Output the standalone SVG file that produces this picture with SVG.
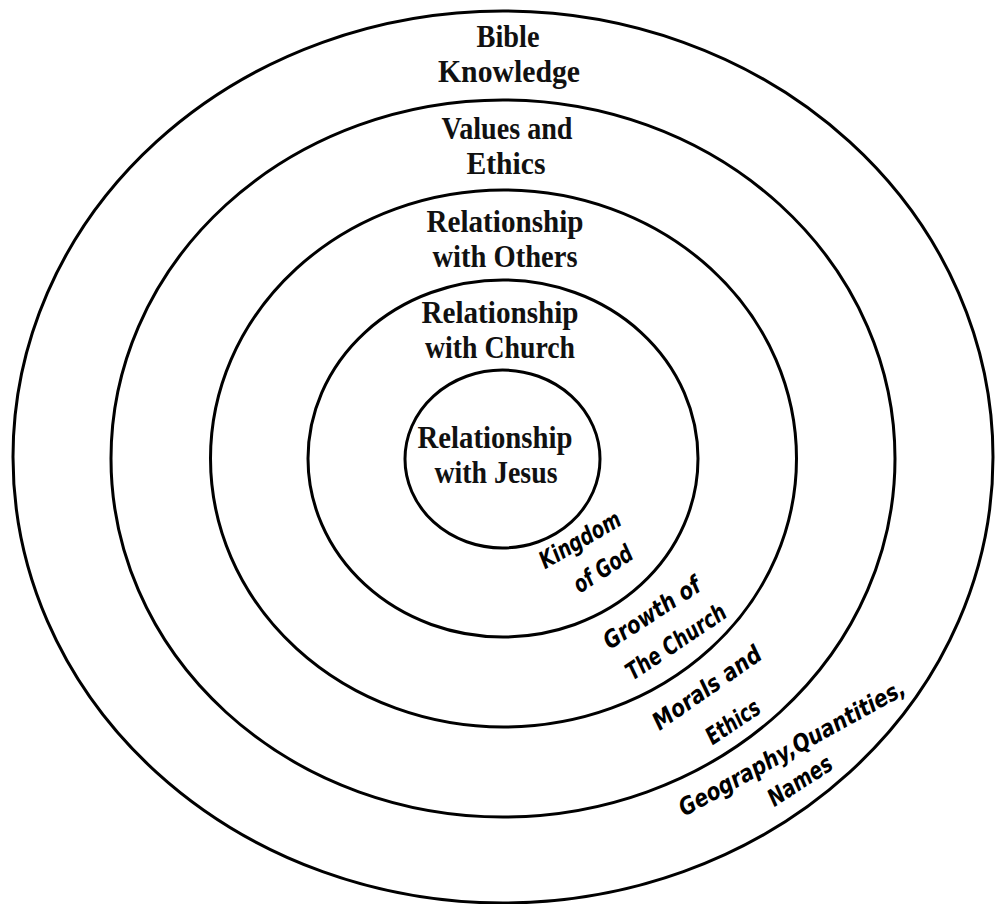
<svg xmlns="http://www.w3.org/2000/svg" width="1002" height="904" viewBox="0 0 1002 904">
<style>
.ring{fill:none;stroke:#000;stroke-width:3}
.lbl{font-family:"Liberation Serif","DejaVu Serif",serif;font-weight:bold;font-size:32px;fill:#111;text-anchor:middle}
.hand{font-family:"DejaVu Sans Condensed","DejaVu Sans",sans-serif;font-weight:bold;font-style:oblique;font-size:24px;fill:#000;text-anchor:middle;dominant-baseline:central}
</style>
<rect width="1002" height="904" fill="#fff"/>
<g id="ring-bible">
<ellipse class="ring" cx="503" cy="457" rx="490" ry="446"/>
<text class="lbl" x="508" y="47" textLength="63" lengthAdjust="spacingAndGlyphs">Bible</text>
<text class="lbl" x="509" y="82" textLength="142" lengthAdjust="spacingAndGlyphs">Knowledge</text>
</g>
<g id="ring-values">
<ellipse class="ring" cx="503" cy="458.5" rx="392" ry="358.5"/>
<text class="lbl" x="507" y="139" textLength="131" lengthAdjust="spacingAndGlyphs">Values and</text>
<text class="lbl" x="506" y="174" textLength="79" lengthAdjust="spacingAndGlyphs">Ethics</text>
</g>
<g id="ring-others">
<ellipse class="ring" cx="503.5" cy="458.5" rx="293" ry="268.5"/>
<text class="lbl" x="505" y="232" textLength="157" lengthAdjust="spacingAndGlyphs">Relationship</text>
<text class="lbl" x="505" y="267" textLength="145" lengthAdjust="spacingAndGlyphs">with Others</text>
</g>
<g id="ring-church">
<ellipse class="ring" cx="503" cy="458.5" rx="195" ry="178.5"/>
<text class="lbl" x="500" y="323" textLength="157" lengthAdjust="spacingAndGlyphs">Relationship</text>
<text class="lbl" x="500" y="358" textLength="150" lengthAdjust="spacingAndGlyphs">with Church</text>
</g>
<g id="ring-jesus">
<ellipse class="ring" cx="502.5" cy="459" rx="97.5" ry="89"/>
<text class="lbl" x="495" y="448" textLength="155" lengthAdjust="spacingAndGlyphs">Relationship</text>
<text class="lbl" x="496" y="483" textLength="123" lengthAdjust="spacingAndGlyphs">with Jesus</text>
</g>
<g id="side-labels">
<text class="hand" transform="rotate(-30 580 540)" x="580" y="540" textLength="90" lengthAdjust="spacingAndGlyphs">Kingdom</text>
<text class="hand" transform="rotate(-33 603 569)" x="603" y="569" textLength="66" lengthAdjust="spacingAndGlyphs">of God</text>
<text class="hand" transform="rotate(-33 652 613)" x="652" y="613" textLength="111" lengthAdjust="spacingAndGlyphs">Growth of</text>
<text class="hand" transform="rotate(-34 676 642)" x="676" y="642" textLength="116" lengthAdjust="spacingAndGlyphs">The Church</text>
<text class="hand" transform="rotate(-35 707 688)" x="707" y="688" textLength="127" lengthAdjust="spacingAndGlyphs">Morals and</text>
<text class="hand" transform="rotate(-34 733 722)" x="733" y="722" textLength="60" lengthAdjust="spacingAndGlyphs">Ethics</text>
<text class="hand" transform="rotate(-29 792 748)" x="792" y="748" textLength="255" lengthAdjust="spacingAndGlyphs">Geography,Quantities,</text>
<text class="hand" transform="rotate(-33 800 781)" x="800" y="781" textLength="72" lengthAdjust="spacingAndGlyphs">Names</text>
</g>
</svg>
